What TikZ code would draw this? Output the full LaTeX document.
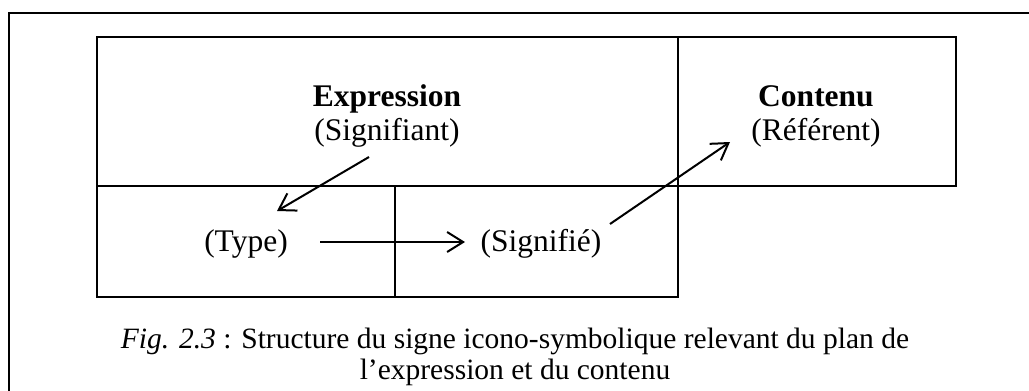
\documentclass[tikz,border=0pt]{standalone}
\usepackage{fontspec}
\setmainfont{Liberation Serif}
\usetikzlibrary{arrows.meta}
\begin{document}
\begin{tikzpicture}[x=1pt,y=-1pt,
  frame/.style={line width=2pt},
  cell/.style={draw, line width=1.8pt},
  lbl/.style={font=\fontsize{31.5}{34}\selectfont, align=center, inner sep=0pt},
  captext/.style={font=\fontsize{29.5}{31}\selectfont, align=center, inner sep=0pt},
  arr/.style={line width=2pt, -{Straight Barb[length=16pt,width=20pt,line width=2pt]}}]
\useasboundingbox (0,0) rectangle (1029,391);
\draw[frame] (9,391) -- (9,13) -- (1029,13);
\draw[cell] (97,37) rectangle (678,297);
\draw[cell] (97,186) -- (678,186);
\draw[cell] (395,186) -- (395,297);
\draw[cell] (678,37) rectangle (956,186);
\node[lbl] (expr) at (387,116) {\textbf{Expression}\\(Signifiant)};
\node[lbl] (cont) at (816,116) {\textbf{Contenu}\\(Référent)};
\node[lbl] (type) at (246,244) {(Type)};
\node[lbl] (sigf) at (541,244) {(Signifié)};
\coordinate (a1s) at (369,157);
\coordinate (a1e) at (277,211);
\coordinate (a2s) at (320,242);
\coordinate (a2e) at (465,242);
\coordinate (a3s) at (610,224);
\coordinate (a3e) at (730,142);
\draw[arr] (a1s) -- (a1e);
\draw[arr] (a2s) -- (a2e);
\draw[arr] (a3s) -- (a3e);
\node[captext] (caption) at (515,357) {\textit{Fig. 2.3} : Structure du signe icono-symbolique relevant du plan de\\l’expression et du contenu};
\end{tikzpicture}
\end{document}
